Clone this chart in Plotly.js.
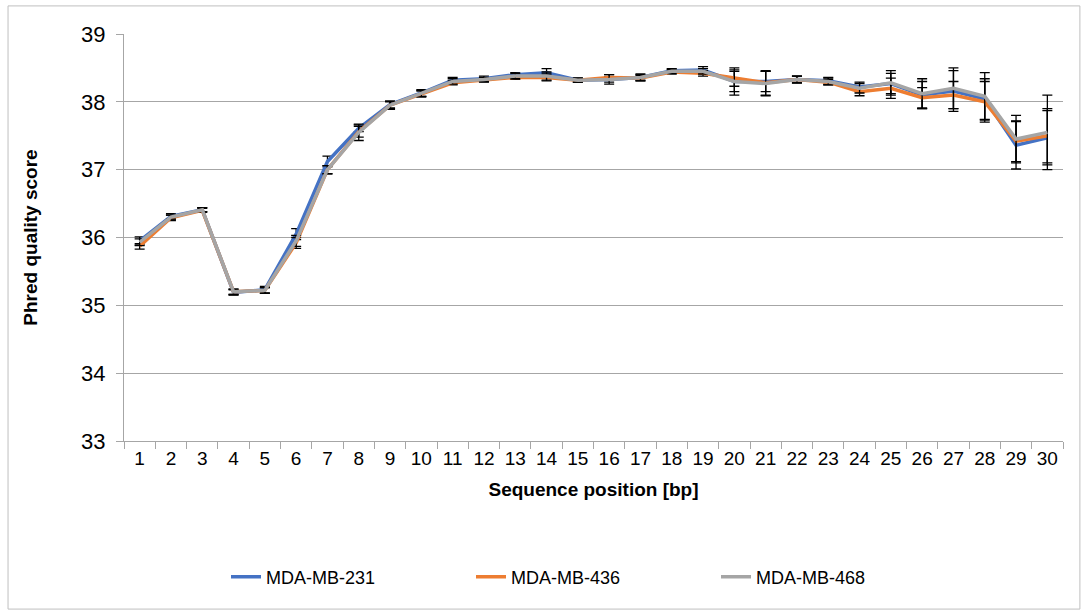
<!DOCTYPE html>
<html>
<head>
<meta charset="utf-8">
<script src="https://cdn.plot.ly/plotly-3.0.1.min.js"></script>
<style>
html,body{margin:0;padding:0;background:#fff;}
#chart{width:1089px;height:616px;}
</style>
</head>
<body>
<div id="chart"></div>
<script>
const positions = ["1","2","3","4","5","6","7","8","9","10","11","12","13","14","15","16","17","18","19","20","21","22","23","24","25","26","27","28","29","30"];

const seriesNames = ["MDA-MB-231", "MDA-MB-436", "MDA-MB-468"];

const mb231 = [35.95,36.31,36.41,35.19,35.23,36.05,37.12,37.61,37.96,38.13,38.32,38.34,38.40,38.43,38.32,38.33,38.36,38.46,38.47,38.30,38.30,38.33,38.31,38.22,38.27,38.10,38.16,38.04,37.36,37.47];
const mb436 = [35.87,36.29,36.40,35.20,35.22,35.92,37.00,37.56,37.95,38.12,38.28,38.32,38.36,38.36,38.32,38.36,38.35,38.44,38.42,38.35,38.28,38.33,38.29,38.15,38.20,38.06,38.10,38.00,37.42,37.50];
const mb468 = [35.93,36.30,36.41,35.20,35.22,35.95,37.00,37.55,37.95,38.12,38.30,38.33,38.38,38.38,38.32,38.33,38.36,38.45,38.45,38.30,38.27,38.33,38.30,38.20,38.28,38.12,38.20,38.08,37.45,37.55];

const err231 = [0.06,0.04,0.03,0.04,0.05,0.08,0.08,0.05,0.05,0.05,0.04,0.04,0.03,0.06,0.03,0.04,0.04,0.03,0.05,0.15,0.15,0.05,0.05,0.07,0.15,0.2,0.3,0.3,0.35,0.4];
const err436 = [0.04,0.04,0.03,0.04,0.04,0.08,0.06,0.08,0.05,0.04,0.03,0.03,0.03,0.05,0.03,0.04,0.04,0.03,0.04,0.12,0.18,0.05,0.04,0.06,0.15,0.15,0.2,0.3,0.3,0.4];
const err468 = [0.05,0.03,0.03,0.04,0.04,0.08,0.06,0.12,0.06,0.05,0.04,0.03,0.04,0.06,0.03,0.07,0.05,0.03,0.04,0.2,0.18,0.05,0.05,0.07,0.18,0.22,0.3,0.35,0.35,0.55];

const colors = ["#4472C4", "#ED7D31", "#A5A5A5"];
const values = [mb231, mb436, mb468];
const errs = [err231, err436, err468];

const traces = values.map((v, i) => ({
  type: "scatter",
  mode: "lines",
  x: positions,
  y: v,
  name: seriesNames[i],
  line: {color: colors[i], width: 3.5},
  error_y: {type: "data", array: errs[i], visible: true, color: "#000000", thickness: 1.3, width: 5}
}));

const layout = {
  width: 1089,
  height: 616,
  margin: {l: 124, r: 26, t: 34, b: 175},
  paper_bgcolor: "#ffffff",
  plot_bgcolor: "#ffffff",
  font: {family: "Liberation Sans, Arial, sans-serif", color: "#000000"},
  showlegend: true,
  legend: {
    orientation: "h",
    x: 0.5, xanchor: "center",
    y: -0.334, yanchor: "middle",
    font: {size: 18, color: "#000000"},
    entrywidth: 200, entrywidthmode: "pixels",
    itemwidth: 30
  },
  xaxis: {
    type: "category",
    range: [-0.5, 29.5],
    tickson: "boundaries",
    ticks: "outside",
    ticklen: 7,
    tickcolor: "#A6A6A6",
    showline: true,
    linecolor: "#A6A6A6",
    linewidth: 1,
    showgrid: false,
    tickfont: {size: 19, color: "#000000"},
    title: {text: "<b>Sequence position [bp]</b>", font: {size: 19, color: "#000000"}, standoff: 14},
    automargin: false,
    fixedrange: true
  },
  yaxis: {
    range: [33, 39],
    dtick: 1,
    tick0: 33,
    ticks: "outside",
    ticklen: 7,
    tickcolor: "#A6A6A6",
    showline: true,
    linecolor: "#A6A6A6",
    showgrid: true,
    gridcolor: "#A6A6A6",
    gridwidth: 1,
    zeroline: false,
    tickfont: {size: 22, color: "#000000"},
    ticklabelstandoff: 6,
    title: {text: "<b>Phred quality score</b>", font: {size: 19, color: "#000000"}, standoff: 38},
    automargin: false
  },
  shapes: [{
    type: "rect", xref: "paper", yref: "paper",
    x0: -0.1235, x1: 1.018, y0: -0.413, y1: 1.069,
    line: {color: "#BFBFBF", width: 1},
    fillcolor: "rgba(0,0,0,0)",
    layer: "below"
  }]
};

Plotly.newPlot("chart", traces, layout, {displayModeBar: false, staticPlot: true});
</script>
</body>
</html>
